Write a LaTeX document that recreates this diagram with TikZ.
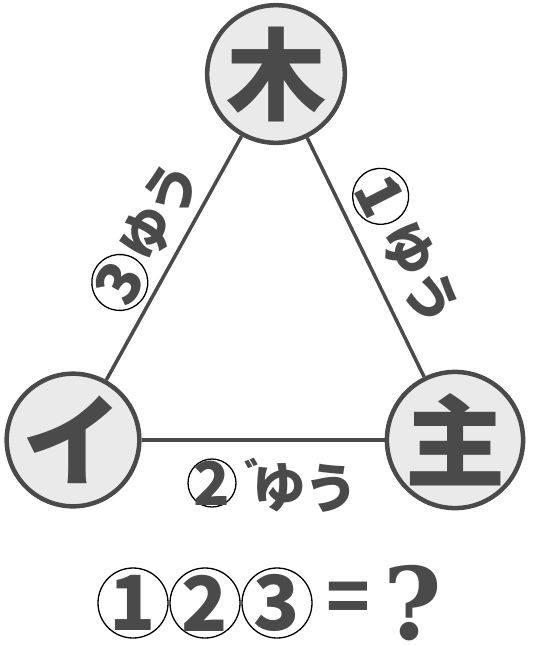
\documentclass[tikz,border=0pt]{standalone}
\usepackage{fontspec}
\newfontfamily\jp{Noto Sans CJK JP Black}
\newfontfamily\jpd{Noto Sans CJK JP}
\newfontfamily\qfont{DejaVu Serif}
\definecolor{ink}{HTML}{4A4A4A}
\definecolor{cfill}{HTML}{EAEAEA}
\begin{document}
\begin{tikzpicture}[x=1pt,y=-1pt,
  kan/.style={circle, draw=ink, line width=4.5pt, fill=cfill, minimum size=130pt, inner sep=0pt, text=ink, font=\jp\fontsize{100}{100}\selectfont},
  edgeline/.style={draw=ink, line width=3.5pt},
  ring/.style={circle, draw=black, line width=1.3pt, inner sep=0pt, minimum size=#1},
  dig/.style={inner sep=0pt, text=ink, font=\jpd\bfseries\fontsize{#1}{#1}\selectfont},
  kana/.style={inner sep=0pt, text=ink, font=\jp\fontsize{54}{54}\selectfont}]
\useasboundingbox (0,0) rectangle (539,645);
\node[kan] (moku) at (276,74) {木};
\node[kan] (nin) at (73,440) {イ};
\node[kan] (shu) at (455,440) {主};
\draw[edgeline] (nin) -- (moku);
\draw[edgeline] (moku) -- (shu);
\draw[edgeline] (nin) -- (shu);
% left label
\begin{scope}[shift={(145,237)}, rotate=61, transform shape]
  \node[ring=56pt] (c3) at (-52,0) {};
  \node[dig=60] (n3) at (c3) {3};
  \node[kana] (l3a) at (4,0) {ゆ};
  \node[kana] (l3b) at (55,0) {う};
\end{scope}
% right label
\begin{scope}[shift={(407,248)}, rotate=-63, transform shape]
  \node[ring=56pt] (c1) at (-58,0) {};
  \node[dig=60] (n1) at (c1) {1};
  \node[kana] (r1a) at (2,0) {ゆ};
  \node[kana] (r1b) at (55,0) {う};
\end{scope}
% bottom label
\node[ring=48pt] (c2) at (212,483) {};
\node[dig=60] (n2) at (c2) {2};
\node[kana, font=\jp\fontsize{40}{40}\selectfont] (dk) at (264,475) {゛};
\node[kana] (b2a) at (279,488) {ゆ};
\node[kana] (b2b) at (331,488) {う};
% formula
\node[ring=70pt] (g1) at (133,603) {};
\node[ring=70pt] (g2) at (205,603) {};
\node[ring=70pt] (g3) at (277,603) {};
\node[dig=76] (f1) at (g1) {1};
\node[dig=76] (f2) at (g2) {2};
\node[dig=76] (f3) at (g3) {3};
\node[text=ink, inner sep=0pt, font=\jp\fontsize{72}{72}\selectfont] (eq) at (348,603) {=};
\node[text=ink, inner sep=0pt, font=\qfont\bfseries\fontsize{100}{100}\selectfont] (q) at (413,603) {?};
\end{tikzpicture}
\end{document}
